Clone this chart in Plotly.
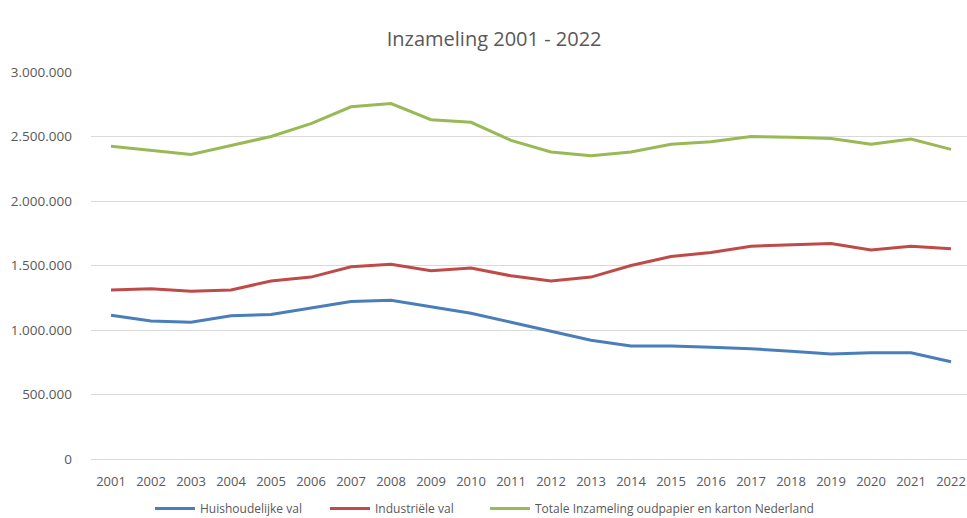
import plotly.graph_objects as go

years = [str(y) for y in range(2001, 2023)]

huishoudelijk = [1114000, 1070000, 1060000, 1110000, 1120000, 1170000, 1220000, 1230000,
                 1180000, 1130000, 1060000, 990000, 920000, 876000, 876000, 866000,
                 855000, 835000, 814000, 824000, 824000, 754000]
industrieel = [1310000, 1320000, 1300000, 1310000, 1380000, 1410000, 1490000, 1510000,
               1460000, 1480000, 1420000, 1380000, 1410000, 1500000, 1570000, 1600000,
               1650000, 1660000, 1670000, 1620000, 1650000, 1630000]
totaal = [2424000, 2390000, 2360000, 2430000, 2500000, 2600000, 2730000, 2755000,
          2630000, 2610000, 2470000, 2380000, 2350000, 2380000, 2440000, 2460000,
          2500000, 2495000, 2485000, 2440000, 2480000, 2400000]

y_ticks = [0, 500000, 1000000, 1500000, 2000000, 2500000, 3000000]

series = [
    ("Huishoudelijke val", huishoudelijk, "#4a7ebb", "legend"),
    ("Industriële val", industrieel, "#be4b48", "legend2"),
    ("Totale Inzameling oudpapier en karton Nederland", totaal, "#98b954", "legend3"),
]

fig = go.Figure()
for name, vals, color, leg in series:
    fig.add_trace(go.Scatter(
        x=list(range(len(years))), y=vals, name=name, mode="lines",
        line=dict(color=color, width=3), legend=leg,
    ))

font_family = "Open Sans, sans-serif"
grey = "#595959"

# one legend box per series, laid out along the bottom edge
left_px, plot_w = 91, 876
legend_common = dict(orientation="h", xanchor="left", y=-0.128, yanchor="middle",
                     font=dict(size=12, color=grey), bgcolor="rgba(0,0,0,0)",
                     itemwidth=40)
legend_starts = [150, 325, 485]

fig.update_layout(
    width=967, height=518,
    margin=dict(l=left_px, r=0, t=72, b=59, autoexpand=False),
    paper_bgcolor="white", plot_bgcolor="white",
    separators=",.",
    title=dict(text="Inzameling 2001 - 2022", x=0.511, xanchor="center",
               y=0.925, yanchor="middle",
               font=dict(family=font_family, size=20, color=grey)),
    font=dict(family=font_family, size=13, color=grey),
    xaxis=dict(
        tickmode="array", tickvals=list(range(len(years))), ticktext=years,
        range=[-0.5, 21.4], showgrid=False, zeroline=False,
        showline=False, ticks="", ticklabelstandoff=13,
        tickfont=dict(size=13, color=grey),
    ),
    yaxis=dict(
        range=[0, 3000000], tickvals=y_ticks, tickformat=",d",
        showgrid=True, gridcolor="#d9d9d9", gridwidth=1,
        zeroline=True, zerolinecolor="#d9d9d9", zerolinewidth=1,
        ticks="", ticklabelstandoff=18,
        tickfont=dict(size=13.5, color=grey),
    ),
    legend=dict(x=(legend_starts[0] - left_px) / plot_w, **legend_common),
    legend2=dict(x=(legend_starts[1] - left_px) / plot_w, **legend_common),
    legend3=dict(x=(legend_starts[2] - left_px) / plot_w, **legend_common),
    showlegend=True,
)

fig.write_html("out.html")
